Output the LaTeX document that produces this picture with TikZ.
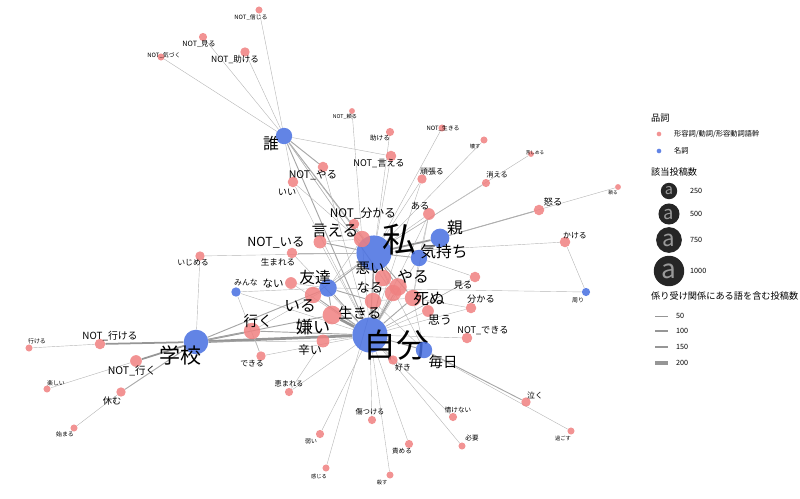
\documentclass[tikz,border=0pt]{standalone}
\usepackage{fontspec}
\setmainfont{Noto Sans CJK JP}
\definecolor{pinkc}{RGB}{240,128,128}
\definecolor{bluec}{RGB}{70,110,225}
\definecolor{edgec}{RGB}{150,150,150}
\newcommand\fs[1]{\fontsize{\dimexpr #1pt*112/100\relax}{\dimexpr #1pt*112/100\relax}\selectfont}
\newcommand\pn[8]{\node[wnode,fill=pinkc,minimum size=#4] (#1) at (#2,#3) {};
  \node[lab] (l#1) at (#5,#6) {\fs{#7}#8};}
\newcommand\bn[8]{\node[wnode,fill=bluec,minimum size=#4] (#1) at (#2,#3) {};
  \node[lab] (l#1) at (#5,#6) {\fs{#7}#8};}
\pgfdeclarelayer{bg}\pgfsetlayers{bg,main}
\begin{document}
\begin{tikzpicture}[x=0.03cm,y=-0.03cm,
  wnode/.style={circle,inner sep=0,draw=none,opacity=0.85},
  lab/.style={inner sep=0,text=black},
  ea/.style={draw=edgec!70,line width=0.35pt},
  eb/.style={draw=edgec!85,line width=0.8pt},
  ec/.style={draw=edgec,line width=1.5pt},
  ed/.style={draw=edgec,line width=2.3pt}]
\useasboundingbox (0,0) rectangle (800,499);
\bn{watashi}{374}{253}{30}{400}{240}{26}{私}
\bn{jibun}{370}{335}{30}{396}{345}{25}{自分}
\bn{gakko}{196}{342}{21}{180}{355}{16}{学校}
\bn{tomo}{328}{288}{15}{315}{278}{12}{友達}
\bn{dare}{284}{136}{14}{271}{144}{12}{誰}
\bn{oya}{440}{238}{16}{455}{228}{12}{親}
\bn{kimo}{419}{258}{14}{444}{252}{12}{気持ち}
\bn{mai}{424}{350}{14}{443}{362}{11}{毎日}
\bn{minna}{236}{292}{8}{246}{283}{6}{みんな}
\bn{mawari}{586}{292}{7}{578}{300}{4.5}{周り}
\pn{nshin}{259}{10}{6}{251}{17}{4.5}{NOT\_信じる}
\pn{nmiru}{203}{37}{7}{199}{44}{5.5}{NOT\_見る}
\pn{nkizu}{161}{57}{6}{164}{55}{4.5}{NOT\_気づく}
\pn{ntasu}{245}{52}{8}{235}{60}{6.5}{NOT\_助ける}
\pn{ntayo}{352}{111}{5}{345}{117}{4}{NOT\_頼る}
\pn{tasu}{390}{132}{7}{380}{138}{5}{助ける}
\pn{nikiru}{442}{128}{6}{443}{128}{4.5}{NOT\_生きる}
\pn{kowasu}{484}{140}{6}{475}{146}{4}{壊す}
\pn{kurushi}{531}{154}{5}{535}{153}{3.5}{苦しめる}
\pn{tayoru}{618}{187}{5}{613}{193}{3.5}{頼る}
\pn{kieru}{486}{183}{7}{497}{175}{5.5}{消える}
\pn{ganba}{422}{179}{8}{432}{172}{6}{頑張る}
\pn{nieru}{391}{156}{9}{379}{164}{7}{NOT\_言える}
\pn{nyaru}{323}{167}{9}{313}{175}{8}{NOT\_やる}
\pn{ii}{293}{182}{9}{287}{192}{7}{いい}
\pn{aru}{429}{214}{10}{420}{206}{7}{ある}
\pn{okoru}{539}{210}{9}{553}{202}{7}{怒る}
\pn{kakeru}{565}{242}{9}{575}{236}{6}{かける}
\pn{nwaka}{354}{224}{9}{363}{213}{9}{NOT\_分かる}
\pn{ieru}{362}{239}{14}{335}{231}{12}{言える}
\pn{niru}{320}{242}{11}{276}{243}{9.5}{NOT\_いる}
\pn{umare}{292}{253}{9}{278}{262}{6.5}{生まれる}
\pn{nai}{291}{283}{10}{273}{284}{8}{ない}
\pn{iru}{313}{295}{14}{300}{306}{12}{いる}
\pn{kirai}{332}{315}{16}{313}{327}{13}{嫌い}
\pn{ikiru}{373}{301}{14}{360}{313}{11}{生きる}
\pn{warui}{383}{278}{14}{370}{268}{11}{悪い}
\pn{naru}{393}{293}{14}{370}{288}{10}{なる}
\pn{yaru}{398}{287}{15}{413}{277}{12}{やる}
\pn{shinu}{413}{298}{14}{429}{299}{12}{死ぬ}
\pn{omou}{428}{311}{10}{440}{320}{9}{思う}
\pn{miru}{475}{277}{9}{463}{285}{7}{見る}
\pn{wakaru}{471}{308}{9}{481}{299}{7}{分かる}
\pn{ndeki}{467}{338}{9}{483}{330}{7}{NOT\_できる}
\pn{suki}{393}{360}{8}{403}{368}{6}{好き}
\pn{tsurai}{323}{341}{11}{310}{350}{9}{辛い}
\pn{iku}{252}{331}{14}{258}{321}{11}{行く}
\pn{dekiru}{261}{356}{8}{252}{364}{6}{できる}
\pn{ijime}{200}{256}{8}{193}{263}{6}{いじめる}
\pn{nikeru}{100}{344}{9}{110}{336}{7.5}{NOT\_行ける}
\pn{ikeru}{29}{348}{6}{37}{341}{4.5}{行ける}
\pn{niku}{136}{361}{10}{132}{371}{8}{NOT\_行く}
\pn{tanoshi}{47}{389}{6}{56}{383}{4.5}{楽しい}
\pn{yasumu}{121}{392}{8}{112}{401}{7}{休む}
\pn{hajimaru}{74}{428}{6}{65}{434}{4.5}{始まる}
\pn{megu}{289}{392}{7}{289}{384}{5.5}{恵まれる}
\pn{yowai}{320}{434}{7}{311}{441}{4.5}{弱い}
\pn{kanji}{326}{468}{6}{319}{476}{4}{感じる}
\pn{kizu}{372}{420}{7}{370}{412}{5.5}{傷つける}
\pn{semeru}{409}{444}{7}{402}{451}{5}{責める}
\pn{korosu}{390}{475}{6}{382}{482}{4}{殺す}
\pn{nasake}{453}{417}{7}{458}{410}{5}{情けない}
\pn{hitsu}{462}{446}{6}{472}{438}{5}{必要}
\pn{naku}{526}{402}{8}{535}{395}{6}{泣く}
\pn{sugosu}{571}{431}{6}{563}{438}{4}{過ごす}
\begin{pgfonlayer}{bg}
\foreach \a/\b/\s in {dare/nshin/ea,dare/nmiru/ea,dare/nkizu/ea,dare/ntasu/ea,dare/nyaru/eb,dare/ii/ea,dare/watashi/eb,dare/jibun/eb,dare/warui/ea,dare/nieru/ea,dare/ieru/ea,dare/naru/ea,
 watashi/oya/ec,watashi/kimo/eb,watashi/ieru/eb,watashi/nwaka/ea,watashi/warui/eb,watashi/yaru/eb,watashi/naru/ea,watashi/shinu/eb,watashi/jibun/eb,watashi/iru/ea,watashi/tomo/eb,watashi/niru/eb,watashi/aru/ea,watashi/ganba/ea,watashi/kieru/ea,watashi/kowasu/ea,watashi/kurushi/ea,watashi/kakeru/ea,watashi/nieru/ea,watashi/tasu/ea,watashi/ikiru/eb,watashi/umare/ea,watashi/nikiru/ea,watashi/ijime/ea,watashi/ii/ea,ntayo/ieru/ea,
 oya/okoru/eb,oya/tayoru/ea,kakeru/mawari/ea,mawari/tomo/ea,
 jibun/gakko/ed,jibun/tomo/eb,jibun/kirai/ed,jibun/ikiru/ec,jibun/iku/eb,jibun/tsurai/ea,jibun/suki/ea,jibun/mai/eb,jibun/kizu/ea,jibun/semeru/ea,jibun/korosu/ea,jibun/nasake/ea,jibun/hitsu/ea,jibun/yowai/ea,jibun/megu/ea,jibun/ndeki/ea,jibun/omou/ea,jibun/wakaru/ea,jibun/shinu/eb,jibun/naru/eb,jibun/yaru/eb,jibun/warui/eb,jibun/iru/eb,jibun/nai/ea,jibun/dekiru/ea,jibun/miru/ea,jibun/ieru/ea,jibun/niru/ea,jibun/nyaru/ea,jibun/aru/ea,jibun/ganba/ea,jibun/ii/ea,jibun/minna/ea,
 mai/naku/eb,mai/sugosu/ea,mai/shinu/ea,mai/watashi/ea,mai/ikiru/ea,
 gakko/nikeru/ec,gakko/niku/ec,gakko/yasumu/eb,gakko/ijime/ea,gakko/iku/ec,gakko/tomo/eb,gakko/kirai/eb,gakko/tsurai/ea,
 minna/tomo/ea,minna/dekiru/ea,ikeru/nikeru/ea,tanoshi/niku/ea,hajimaru/yasumu/ea,megu/tsurai/ea,kanji/ikiru/ea,iku/dekiru/ea,iku/tomo/ea,umare/jibun/ea,nai/tomo/ea,
 kimo/jibun/ea,kimo/shinu/ea,kimo/miru/ea,kimo/oya/ea,miru/jibun/ea,wakaru/shinu/ea,aru/kimo/ea,aru/shinu/ea,ieru/niru/ea,ieru/tomo/ea,tomo/kirai/eb,tomo/ikiru/eb,yaru/warui/ea,ikiru/shinu/ea}
 {\draw[\s] (\a) -- (\b);}
\end{pgfonlayer}
% legend
\node[lab,anchor=west] (lt1) at (651,118) {\fs{7}品詞};
\node[wnode,fill=pinkc,minimum size=4] (lp) at (659,134) {};
\node[lab,anchor=west] (lpt) at (674,134) {\fs{5.5}形容詞/動詞/形容動詞語幹};
\node[wnode,fill=bluec,minimum size=4] (lb) at (659,151) {};
\node[lab,anchor=west] (lbt) at (674,151) {\fs{5.5}名詞};
\node[lab,anchor=west] (lt2) at (651,172) {\fs{7}該当投稿数};
\foreach \y/\r/\f/\v/\n in {191/14/11/250/1,214/18/14/500/2,240/22/17/750/3,271/26/20/1000/4}{
 \node[circle,fill=black!85,minimum size=\r,inner sep=0] (sz\n) at (669,\y) {};
 \node[lab] (sa\n) at (669,\y) {\fs{\f}\textcolor{black!40}{a}};
 \node[lab,anchor=west] (sv\n) at (690,\y) {\fs{5.5}\v};}
\node[lab,anchor=west] (lt3) at (651,296) {\fs{7}係り受け関係にある語を含む投稿数};
\foreach \y/\w/\v/\n in {316/0.5/50/1,331/1.2/100/2,347/2/150/3,363/2.8/200/4}{
 \coordinate (ka\n) at (655,\y); \coordinate (kb\n) at (668,\y);
 \draw[draw=edgec,line width=\w pt] (ka\n) -- (kb\n);
 \node[lab,anchor=west] (kv\n) at (676,\y) {\fs{5.5}\v};}
\end{tikzpicture}
\end{document}
